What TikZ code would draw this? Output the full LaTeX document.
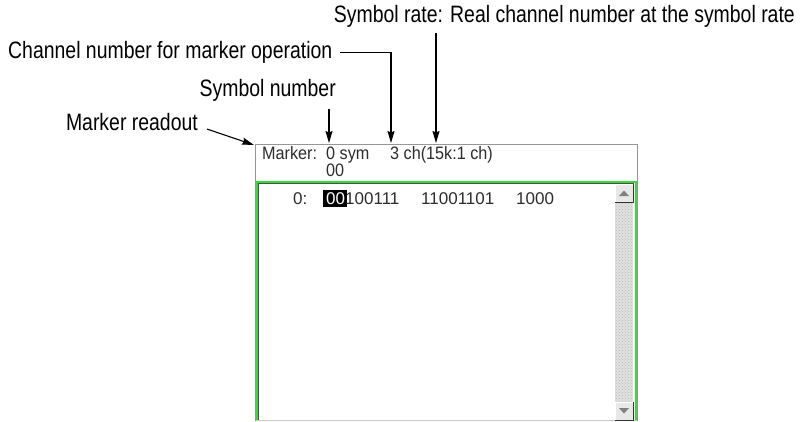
\documentclass[tikz,border=0pt]{standalone}
\usepackage{fontspec}
\setmainfont{Liberation Sans}
\newfontfamily\labfont[FakeStretch=0.82]{Liberation Sans}
\newfontfamily\scrfont[FakeStretch=0.9]{Liberation Sans}
\usetikzlibrary{arrows.meta,patterns}
\definecolor{scrgreen}{RGB}{50,220,50}
\definecolor{scrtext}{RGB}{45,45,45}
\definecolor{frameg}{RGB}{150,150,150}
\definecolor{trackg}{RGB}{225,225,225}
\begin{document}
\begin{tikzpicture}[x=1pt,y=-1pt,
  lab/.style={font=\labfont\fontsize{23.7}{26}\selectfont, inner sep=0pt},
  scr/.style={font=\scrfont\fontsize{18}{20}\selectfont, text=scrtext, inner sep=0pt},
  dat/.style={font=\fontsize{17}{20}\selectfont, text=scrtext, inner sep=0pt},
  arr/.style={line width=1.1pt, -{Stealth[length=12pt,width=7pt,inset=1.5pt]}},
  btn/.style={fill=gray!18, draw=none},
]
\useasboundingbox (0,0) rectangle (802,421);
\fill[white] (0,0) rectangle (802,421);

% window frame
\draw[frameg, line width=1pt] (255.5,421) -- (255.5,144.5) -- (637,144.5) -- (637,421);
% scrollbar track
\fill[trackg] (615,184) rectangle (633,420);
\fill[pattern=crosshatch dots, pattern color=gray!55] (615,202) rectangle (633,402);
% green frame
\draw[scrgreen, line width=2pt] (256.5,421) -- (256.5,181.5) -- (635.5,181.5) -- (635.5,421);
\draw[black!70, line width=1pt] (258.5,421) -- (258.5,183.5) -- (634,183.5);
\draw[gray!45, line width=1pt] (256,420) -- (637,420);

% scroll buttons
\fill[btn] (615,184) rectangle (633,202);
\draw[black!80, line width=1pt] (615,202) -- (633,202) -- (633,184);
\draw[white, line width=1pt] (615.5,202) -- (615.5,184.5) -- (633,184.5);
\fill[gray] (619,196) -- (629,196) -- (624,190.5) -- cycle;
\fill[btn] (615,402) rectangle (633,420);
\draw[black!80, line width=1pt] (615,420) -- (633,420) -- (633,402);
\draw[white, line width=1pt] (615.5,420) -- (615.5,402.5) -- (633,402.5);
\fill[gray] (619,408) -- (629,408) -- (624,413.5) -- cycle;

% readout text
\node[scr, anchor=base west] (mk) at (262,159) {Marker:};
\node[scr, anchor=base west] (sym) at (326,159) {0 sym};
\node[scr, anchor=base west] (ch) at (390,159) {3 ch(15k:1 ch)};
\node[scr, anchor=base west] (sub) at (326,176) {00};

% data line
\node[dat, anchor=base west] (d0) at (293,204) {0:};
\fill[black] (323,189.5) rectangle (346.5,207);
\node[dat, anchor=base west, text=white] (dsel) at (326,204) {00};
\node[dat, anchor=base west] (d1) at (345,204) {100111};
\node[dat, anchor=base west] (d2) at (421,204) {11001101};
\node[dat, anchor=base west] (d3) at (516,204) {1000};

% labels
\node[lab, anchor=base east] (srate) at (795,22.5) {Symbol rate: Real channel number at the symbol rate};
\node[lab, anchor=base west] (chan) at (8,58.5) {Channel number for marker operation};
\node[lab, anchor=base east] (snum) at (336,96.5) {Symbol number};
\node[lab, anchor=base east] (mread) at (198,130.5) {Marker readout};

% arrow targets
\coordinate (tS) at (329,143);
\coordinate (tC) at (391,143);
\coordinate (tR) at (436,143);
\coordinate (tM) at (254,145);

\draw[arr] (srate.south -| tR) ++(0,5) -- (tR);
\draw[arr] ([xshift=8pt]chan.east) -| (tC);
\draw[arr] (snum.south -| tS) ++(0,7) -- (tS);
\draw[arr] (mread.east) ++(9,7) -- (tM);
\end{tikzpicture}
\end{document}
